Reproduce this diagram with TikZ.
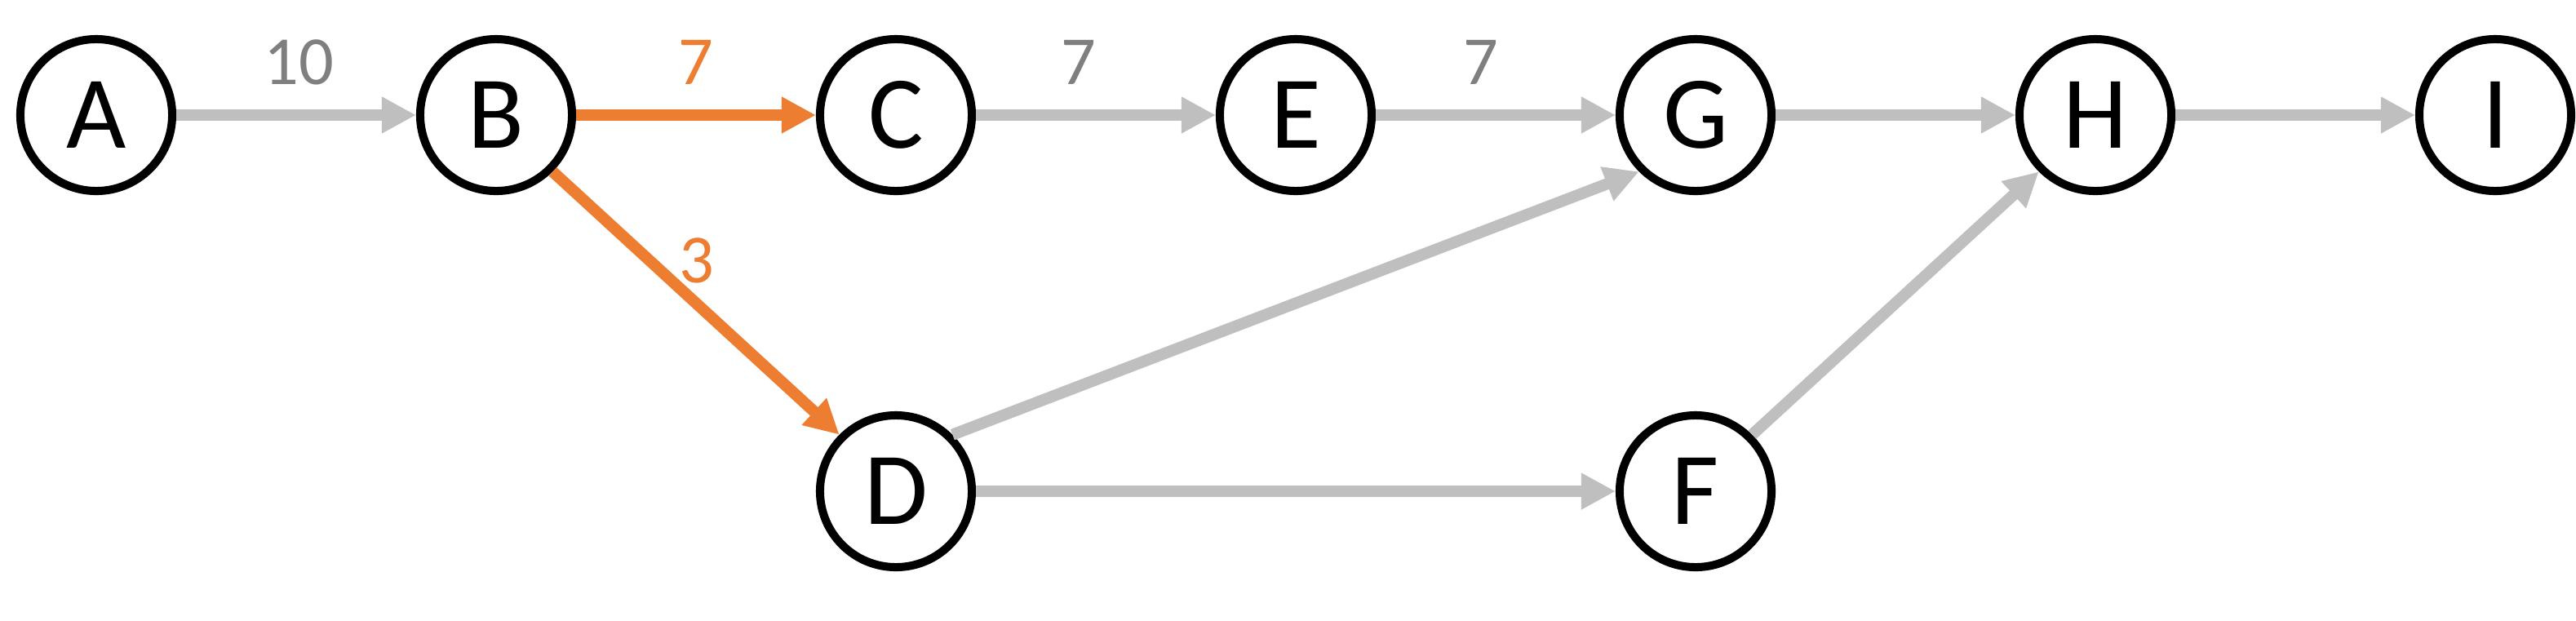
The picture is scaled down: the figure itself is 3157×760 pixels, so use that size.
\documentclass[tikz,border=0pt]{standalone}
\usepackage{fontspec}
\setmainfont{Carlito}
\usetikzlibrary{arrows.meta}
\definecolor{edgegray}{HTML}{BFBFBF}
\definecolor{crit}{HTML}{ED7D31}
\definecolor{lblgray}{HTML}{7F7F7F}
\begin{document}
\begin{tikzpicture}[x=0.01cm,y=-0.01cm,
  vtx/.style={circle, draw=black, line width=2.85pt, minimum size=1.86cm, inner sep=0pt,
    font=\fontsize{36}{36}\selectfont, fill=white},
  edge/.style={draw=edgegray, line width=4pt, -{Triangle[length=4.2mm,width=4.2mm]}},
  critedge/.style={edge, draw=crit},
  wlabel/.style={font=\fontsize{24}{24}\selectfont, text=lblgray, inner sep=0pt},
  critlabel/.style={wlabel, text=crit}]
\useasboundingbox (0,0) rectangle (3157,760);
\node[vtx] (A) at (118,141) {A};
\node[vtx] (B) at (608,141) {B};
\node[vtx] (C) at (1098,141) {C};
\node[vtx] (E) at (1588,141) {E};
\node[vtx] (G) at (2078,141) {G};
\node[vtx] (H) at (2568,141) {H};
\node[vtx] (I) at (3058,141) {I};
\node[vtx] (D) at (1098,602) {D};
\node[vtx] (F) at (2078,602) {F};
\draw[edge] (A) -- (B);
\draw[critedge] (B) -- (C);
\draw[edge] (C) -- (E);
\draw[edge] (E) -- (G);
\draw[edge] (G) -- (H);
\draw[edge] (H) -- (I);
\draw[critedge] (B.south east) -- (D.north west);
\draw[edge] (D.north east) -- (G.south west);
\draw[edge] (D) -- (F);
\draw[edge] (F.north east) -- (H.south west);
\node[wlabel] (lAB) at (366,76) {10};
\node[critlabel] (lBC) at (853,76) {7};
\node[wlabel] (lCE) at (1322,76) {7};
\node[wlabel] (lEG) at (1815,76) {7};
\node[critlabel] (lBD) at (854,319) {3};
\end{tikzpicture}
\end{document}
